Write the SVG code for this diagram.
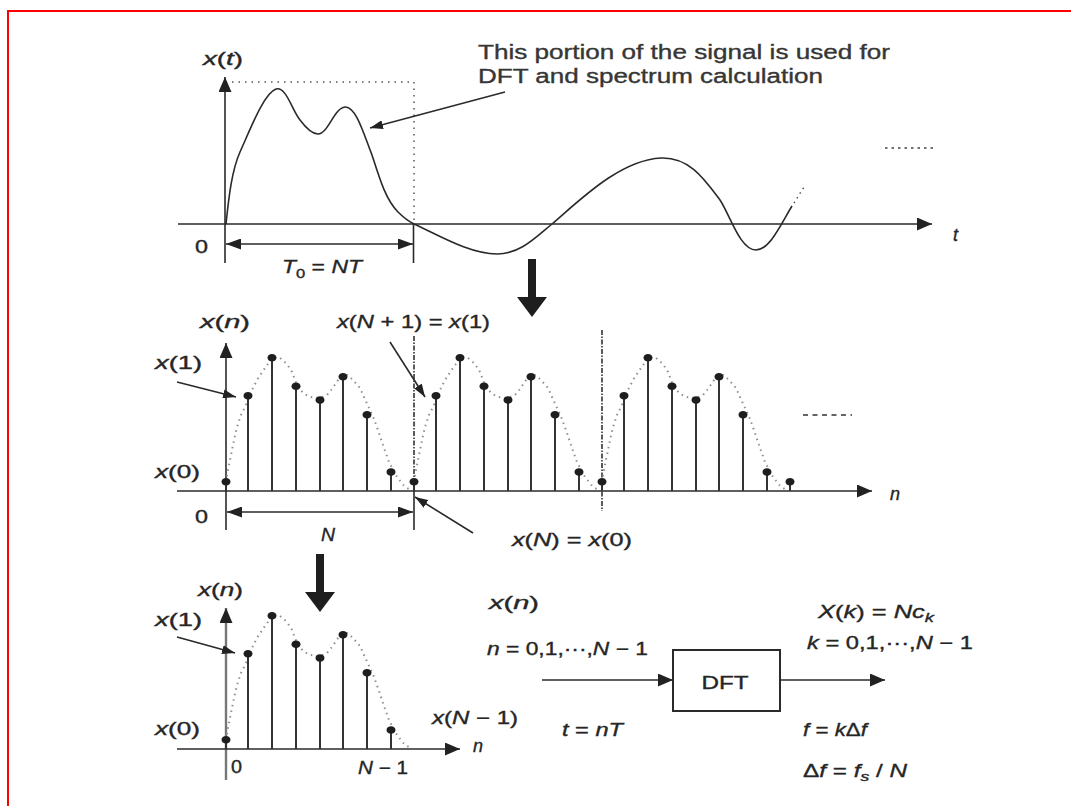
<svg xmlns="http://www.w3.org/2000/svg" xmlns:xlink="http://www.w3.org/1999/xlink" width="1071" height="806" viewBox="0 0 1071 806">
<style>
text{font-family:"Liberation Sans",Arial,sans-serif;fill:#262626;stroke:#262626;stroke-width:0.35;font-size:18px}
.i{font-style:italic}
.note{font-size:20px;fill:#363636;stroke:#363636}
.ln{stroke:#2a2a2a;stroke-width:1.6;fill:none}
.stem{stroke:#333;stroke-width:2}
.env{stroke:#8f8f8f;stroke-width:2;fill:none;stroke-dasharray:1.5 4.2}
.dd{stroke:#333;stroke-width:1.6;stroke-dasharray:5 1.5 1.5 1.5;fill:none}
</style>
<defs>
<marker id="axh" markerUnits="userSpaceOnUse" markerWidth="15" markerHeight="13" refX="15" refY="6.5" orient="auto"><path d="M0,0 L15,6.5 L0,13 z" fill="#222"/></marker>
<marker id="dimh" markerUnits="userSpaceOnUse" markerWidth="15" markerHeight="11" refX="15" refY="5.5" orient="auto-start-reverse"><path d="M0,0 L15,5.5 L0,11 z" fill="#222"/></marker>
<marker id="smh" markerUnits="userSpaceOnUse" markerWidth="13" markerHeight="9" refX="13" refY="4.5" orient="auto"><path d="M0,0 L13,4.5 L0,9 z" fill="#222"/></marker>
<g id="period">
<polyline class="env" points="0,-9 2,-21 5,-36 8,-51 11,-64 15,-76 20,-86 25,-99 31,-111 39,-123 47,-134 54,-133 61,-127 66,-119 71,-106 77,-98 84,-94 94,-93 101,-96 106,-102 114,-114 121,-116 127,-111 134,-103 138,-94 144,-81 148,-72 153,-58 158,-43 163,-29 171,-14 179,-4 185,-1"/>
<g class="stem">
<line x1="0" y1="0" x2="0" y2="-9.3"/>
<line x1="22" y1="0" x2="22" y2="-95.3"/>
<line x1="46" y1="0" x2="46" y2="-133.3"/>
<line x1="70" y1="0" x2="70" y2="-104.7"/>
<line x1="94" y1="0" x2="94" y2="-91"/>
<line x1="117" y1="0" x2="117" y2="-114.3"/>
<line x1="141" y1="0" x2="141" y2="-76.3"/>
<line x1="165" y1="0" x2="165" y2="-19"/>
</g>
<g fill="#1e1e1e">
<ellipse cx="0" cy="-9.3" rx="4.5" ry="3.8"/>
<ellipse cx="22" cy="-95.3" rx="4.5" ry="3.8"/>
<ellipse cx="46" cy="-133.3" rx="4.5" ry="3.8"/>
<ellipse cx="70" cy="-104.7" rx="4.5" ry="3.8"/>
<ellipse cx="94" cy="-91" rx="4.5" ry="3.8"/>
<ellipse cx="117" cy="-114.3" rx="4.5" ry="3.8"/>
<ellipse cx="141" cy="-76.3" rx="4.5" ry="3.8"/>
<ellipse cx="165" cy="-19" rx="4.5" ry="3.8"/>
</g>
</g>
</defs>
<rect width="1071" height="806" fill="#fff"/>
<path d="M8,806 V11 H1071" fill="none" stroke="#f00" stroke-width="2"/>

<g id="top-plot">
<line class="ln" x1="225" y1="263" x2="225" y2="77" marker-end="url(#axh)"/>
<line class="ln" x1="178" y1="224" x2="932" y2="224" marker-end="url(#axh)"/>
<path d="M232,82 H414 V224" fill="none" stroke="#555" stroke-width="1.5" stroke-dasharray="1.5 5"/>
<line class="ln" x1="413.5" y1="224" x2="413.5" y2="263"/>
<line class="ln" x1="226" y1="244" x2="413" y2="244" marker-start="url(#dimh)" marker-end="url(#dimh)"/>
<path class="ln" stroke-width="1.8" d="M226,224 C229,195 232,170 240,152 C250,130 264,93 276,89 C286,86 292,110 300,120 C306,128 312,134 318,134 C328,134 334,108 345,107 C356,106 364,135 372,155 C380,180 386,200 398,212 C405,219 410,222 414,224 C440,236 470,254 497,254 C520,254 535,238 552,224 C580,200 620,160 661,158 C690,157 705,180 720,200 C730,215 740,250 756,250 C770,250 782,222 792,206"/>
<path d="M794,203 L804,187" stroke="#555" stroke-width="1.5" stroke-dasharray="1.5 4" fill="none"/>
<line x1="885" y1="148" x2="936" y2="148" stroke="#444" stroke-width="1.5" stroke-dasharray="2.5 4"/>
<text x="203" y="65" textLength="40" lengthAdjust="spacingAndGlyphs"><tspan class="i">x</tspan>(<tspan class="i">t</tspan>)</text>
<text x="195" y="253" textLength="13" lengthAdjust="spacingAndGlyphs">0</text>
<text x="282" y="273" textLength="80" lengthAdjust="spacingAndGlyphs"><tspan class="i">T</tspan><tspan dy="5" font-size="13">0</tspan><tspan dy="-5"> = </tspan><tspan class="i">NT</tspan></text>
<text x="953" y="241" class="i">t</text>
<text class="note" x="478" y="59" textLength="412" lengthAdjust="spacingAndGlyphs">This portion of the signal is used for</text>
<text class="note" x="478" y="83" textLength="345" lengthAdjust="spacingAndGlyphs">DFT and spectrum calculation</text>
</g>

<g id="middle-plot">
<line class="ln" x1="226" y1="530" x2="226" y2="343" marker-end="url(#axh)"/>
<line class="ln" x1="177" y1="491" x2="872" y2="491" marker-end="url(#axh)"/>
<line class="dd" x1="414" y1="336" x2="414" y2="491"/>
<line class="dd" x1="602" y1="330" x2="602" y2="511"/>
<line class="ln" x1="414" y1="491" x2="414" y2="530"/>
<line class="ln" x1="227" y1="512" x2="413" y2="512" marker-start="url(#dimh)" marker-end="url(#dimh)"/>
<use xlink:href="#period" transform="translate(226,491)"/>
<use xlink:href="#period" transform="translate(414,491)"/>
<use xlink:href="#period" transform="translate(602,491)"/>
<line class="stem" x1="790" y1="491" x2="790" y2="481.7"/>
<ellipse cx="790" cy="481.7" rx="4.5" ry="3.8" fill="#1e1e1e"/>
<line x1="803" y1="415" x2="852" y2="415" stroke="#333" stroke-width="1.5" stroke-dasharray="5 4.5"/>
<text x="200" y="328" textLength="50" lengthAdjust="spacingAndGlyphs"><tspan class="i">x</tspan>(<tspan class="i">n</tspan>)</text>
<text x="337" y="328" textLength="153" lengthAdjust="spacingAndGlyphs"><tspan class="i">x</tspan>(<tspan class="i">N</tspan> + 1) = <tspan class="i">x</tspan>(1)</text>
<text x="155" y="369" textLength="47" lengthAdjust="spacingAndGlyphs"><tspan class="i">x</tspan>(1)</text>
<text x="155" y="478" textLength="45" lengthAdjust="spacingAndGlyphs"><tspan class="i">x</tspan>(0)</text>
<text x="195" y="523" textLength="13" lengthAdjust="spacingAndGlyphs">0</text>
<text x="321" y="541" class="i" textLength="14" lengthAdjust="spacingAndGlyphs">N</text>
<text x="512" y="546" textLength="120" lengthAdjust="spacingAndGlyphs"><tspan class="i">x</tspan>(<tspan class="i">N</tspan>) = <tspan class="i">x</tspan>(0)</text>
<text x="890" y="500" class="i">n</text>
</g>

<g id="bottom-plot">
<line x1="226" y1="780" x2="226" y2="608" stroke="#777" stroke-width="2.4" marker-end="url(#axh)"/>
<line class="ln" x1="177" y1="749" x2="460" y2="749" marker-end="url(#axh)"/>
<use xlink:href="#period" transform="translate(226,749)"/>
<text x="198" y="596" textLength="45" lengthAdjust="spacingAndGlyphs"><tspan class="i">x</tspan>(<tspan class="i">n</tspan>)</text>
<text x="155" y="626" textLength="47" lengthAdjust="spacingAndGlyphs"><tspan class="i">x</tspan>(1)</text>
<text x="155" y="735" textLength="45" lengthAdjust="spacingAndGlyphs"><tspan class="i">x</tspan>(0)</text>
<text x="231" y="773" textLength="11" lengthAdjust="spacingAndGlyphs">0</text>
<text x="358" y="774" textLength="50" lengthAdjust="spacingAndGlyphs"><tspan class="i">N</tspan> − 1</text>
<text x="432" y="724" textLength="86" lengthAdjust="spacingAndGlyphs"><tspan class="i">x</tspan>(<tspan class="i">N</tspan> − 1)</text>
<text x="473" y="752" class="i">n</text>
</g>

<g id="dft">
<rect x="673" y="650" width="107" height="61" fill="#fff" stroke="#2a2a2a" stroke-width="2"/>
<text x="725" y="689" font-size="22" text-anchor="middle" textLength="47" lengthAdjust="spacingAndGlyphs">DFT</text>
<text x="489" y="609" textLength="50" lengthAdjust="spacingAndGlyphs"><tspan class="i">x</tspan>(<tspan class="i">n</tspan>)</text>
<text x="487" y="655" textLength="161" lengthAdjust="spacingAndGlyphs"><tspan class="i">n</tspan> = 0,1,···,<tspan class="i">N</tspan> − 1</text>
<text x="562" y="736" textLength="61" lengthAdjust="spacingAndGlyphs"><tspan class="i">t</tspan> = <tspan class="i">nT</tspan></text>
<text x="818" y="618" textLength="116" lengthAdjust="spacingAndGlyphs"><tspan class="i">X</tspan>(<tspan class="i">k</tspan>) = <tspan class="i">Nc</tspan><tspan class="i" dy="4" font-size="13">k</tspan></text>
<text x="807" y="649" textLength="166" lengthAdjust="spacingAndGlyphs"><tspan class="i">k</tspan> = 0,1,···,<tspan class="i">N</tspan> − 1</text>
<text x="803" y="736" textLength="64" lengthAdjust="spacingAndGlyphs"><tspan class="i">f</tspan> = <tspan class="i">k</tspan>Δ<tspan class="i">f</tspan></text>
<text x="803" y="777" textLength="104" lengthAdjust="spacingAndGlyphs">Δ<tspan class="i">f</tspan> = <tspan class="i">f</tspan><tspan class="i" dy="4" font-size="13">s</tspan><tspan dy="-4"> / </tspan><tspan class="i">N</tspan></text>
</g>

<g id="connectors">
<line class="ln" x1="505" y1="92" x2="370" y2="128" stroke-width="1.4" marker-end="url(#smh)"/>
<polygon points="528,259 536,259 536,297 547,297 532,317 517,297 528,297" fill="#1e1e1e"/>
<polygon points="316,554 324,554 324,592 335,592 320,612 305,592 316,592" fill="#1e1e1e"/>
<line class="ln" x1="177" y1="382" x2="236" y2="397" stroke-width="1.4" marker-end="url(#smh)"/>
<line class="ln" x1="390" y1="342" x2="425" y2="397" stroke-width="1.4" marker-end="url(#smh)"/>
<line class="ln" x1="473" y1="533" x2="415" y2="497" stroke-width="1.4" marker-end="url(#smh)"/>
<line class="ln" x1="177" y1="637" x2="235" y2="653" stroke-width="1.4" marker-end="url(#smh)"/>
<line class="ln" x1="542" y1="680" x2="673" y2="680" marker-end="url(#axh)"/>
<line class="ln" x1="780" y1="680" x2="885" y2="680" marker-end="url(#axh)"/>
</g>
</svg>
